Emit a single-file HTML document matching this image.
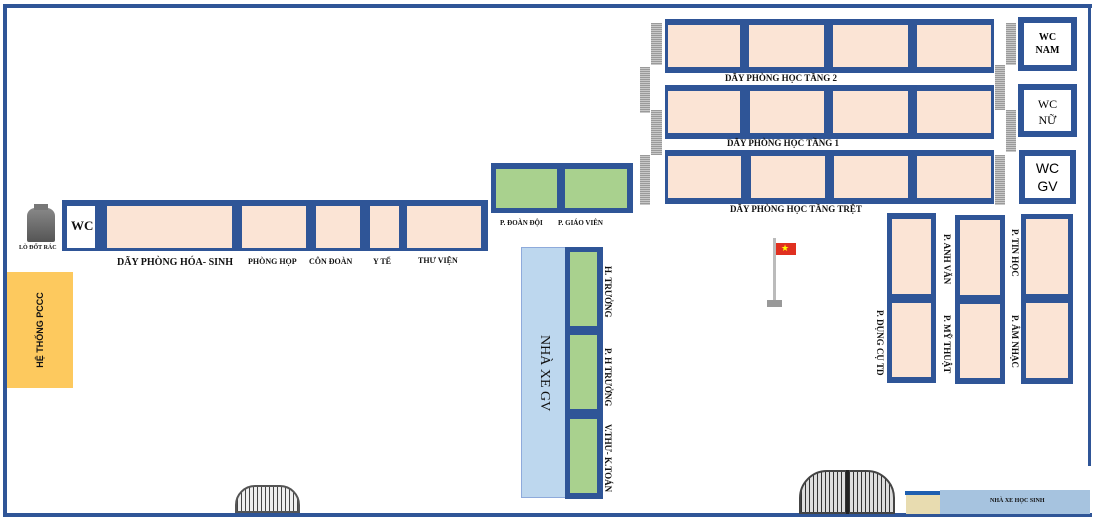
<!DOCTYPE html>
<html><head><meta charset="utf-8"><style>
body{margin:0;background:#fff;}
#c{position:relative;width:1096px;height:520px;overflow:hidden;background:#fff;font-family:"Liberation Serif",serif;}
.a{position:absolute;box-sizing:border-box;}
.b{background:#2f5597;}
.p{background:#fbe4d5;}
.g{background:#a9d18e;}
.w{background:#fff;}
.st{background:repeating-linear-gradient(180deg,#9a9a9a 0 1px,#c8c8c8 1px 2px);}
.t{position:absolute;font-weight:bold;font-size:9px;white-space:nowrap;color:#111;}
.v{position:absolute;font-weight:bold;font-size:9px;white-space:nowrap;color:#111;writing-mode:vertical-rl;}
</style></head><body><div id="c">
<div class="a b" style="left:3px;top:4px;width:1089px;height:4px"></div>
<div class="a b" style="left:3px;top:4px;width:4px;height:513px"></div>
<div class="a b" style="left:3px;top:513px;width:1089px;height:4px"></div>
<div class="a b" style="left:1088px;top:4px;width:3px;height:462px"></div>

<div class="a b" style="left:62px;top:200px;width:426px;height:51px"></div>
<div class="a w" style="left:67px;top:206px;width:28px;height:42px"></div>
<div class="t" style="left:71px;top:218px;font-size:13px">WC</div>
<div class="a p" style="left:107px;top:206px;width:125px;height:42px"></div>
<div class="a p" style="left:242px;top:206px;width:64px;height:42px"></div>
<div class="a p" style="left:316px;top:206px;width:44px;height:42px"></div>
<div class="a p" style="left:370px;top:206px;width:29px;height:42px"></div>
<div class="a p" style="left:407px;top:206px;width:74px;height:42px"></div>
<div class="t" style="left:117px;top:257px;font-size:10px">DÃY PHÒNG HÓA- SINH</div>
<div class="t" style="left:248px;top:257px;font-size:8px">PHÒNG HỌP</div>
<div class="t" style="left:309px;top:257px;font-size:8px">CÔN ĐOÀN</div>
<div class="t" style="left:373px;top:257px;font-size:8px">Y TẾ</div>
<div class="t" style="left:418px;top:256px;font-size:8px">THƯ VIỆN</div>
<div class="a" style="left:27px;top:208px;width:28px;height:34px;background:linear-gradient(#888,#555);border-radius:8px 8px 2px 2px"></div>
<div class="a" style="left:34px;top:204px;width:14px;height:6px;background:#777"></div>
<div class="t" style="left:19px;top:245px;font-size:6px">LÒ ĐỐT RÁC</div>
<div class="a" style="left:7px;top:272px;width:66px;height:116px;background:#fdc95e"></div>
<div class="t" style="left:40px;top:330px;font-family:'Liberation Sans',sans-serif;font-size:9px;transform:translate(-50%,-50%) rotate(-90deg)">HỆ THỐNG PCCC</div>

<div class="a b" style="left:491px;top:163px;width:142px;height:50px"></div>
<div class="a g" style="left:496px;top:169px;width:61px;height:39px"></div>
<div class="a g" style="left:565px;top:169px;width:62px;height:39px"></div>
<div class="t" style="left:500px;top:219px;font-size:7px">P. ĐOÀN ĐỘI</div>
<div class="t" style="left:558px;top:219px;font-size:7px">P. GIÁO VIÊN</div>

<div class="a" style="left:521px;top:247px;width:45px;height:251px;background:#bdd7ee;border:1px solid #8eaadb"></div>
<div class="v" style="left:536px;top:335px;font-weight:normal;font-size:14px">NHÀ XE GV</div>
<div class="a b" style="left:565px;top:247px;width:38px;height:252px"></div>
<div class="a g" style="left:570px;top:252px;width:27px;height:74px"></div>
<div class="a g" style="left:570px;top:335px;width:27px;height:74px"></div>
<div class="a g" style="left:570px;top:419px;width:27px;height:74px"></div>
<div class="v" style="left:603px;top:266px">H. TRƯỞNG</div>
<div class="v" style="left:603px;top:348px">P. H TRƯỞNG</div>
<div class="v" style="left:603px;top:424px">V.THƯ- K.TOÁN</div>

<div class="a st" style="left:640px;top:67px;width:10px;height:46px"></div>
<div class="a st" style="left:640px;top:155px;width:10px;height:50px"></div>
<div class="a st" style="left:651px;top:23px;width:11px;height:42px"></div>
<div class="a st" style="left:651px;top:110px;width:11px;height:45px"></div>
<div class="a st" style="left:995px;top:65px;width:10px;height:45px"></div>
<div class="a st" style="left:995px;top:155px;width:10px;height:50px"></div>
<div class="a st" style="left:1006px;top:23px;width:10px;height:42px"></div>
<div class="a st" style="left:1006px;top:110px;width:10px;height:42px"></div>

<div class="a b" style="left:665px;top:19px;width:329px;height:54px"></div>
<div class="a b" style="left:665px;top:85px;width:329px;height:54px"></div>
<div class="a b" style="left:665px;top:150px;width:329px;height:54px"></div>
<div class="a p" style="left:668px;top:25px;width:72px;height:42px"></div>
<div class="a p" style="left:749px;top:25px;width:75px;height:42px"></div>
<div class="a p" style="left:833px;top:25px;width:75px;height:42px"></div>
<div class="a p" style="left:917px;top:25px;width:74px;height:42px"></div>
<div class="a p" style="left:668px;top:91px;width:72px;height:42px"></div>
<div class="a p" style="left:750px;top:91px;width:74px;height:42px"></div>
<div class="a p" style="left:833px;top:91px;width:75px;height:42px"></div>
<div class="a p" style="left:917px;top:91px;width:74px;height:42px"></div>
<div class="a p" style="left:668px;top:156px;width:73px;height:42px"></div>
<div class="a p" style="left:751px;top:156px;width:74px;height:42px"></div>
<div class="a p" style="left:834px;top:156px;width:74px;height:42px"></div>
<div class="a p" style="left:917px;top:156px;width:74px;height:42px"></div>
<div class="t" style="left:725px;top:73px">DÃY PHÒNG HỌC TẦNG 2</div>
<div class="t" style="left:727px;top:138px">DÃY PHÒNG HỌC TẦNG 1</div>
<div class="t" style="left:730px;top:204px">DÃY PHÒNG HỌC TẦNG TRỆT</div>

<div class="a b" style="left:1018px;top:17px;width:59px;height:54px;padding:6px"><div style="background:#fff;width:100%;height:100%;text-align:center;font-size:10px;line-height:13px;padding-top:8px;box-sizing:border-box;font-weight:bold">WC<br>NAM</div></div>
<div class="a b" style="left:1018px;top:84px;width:59px;height:53px;padding:6px"><div style="background:#fff;width:100%;height:100%;text-align:center;font-size:12px;line-height:16px;padding-top:6px;box-sizing:border-box">WC<br>NỮ</div></div>
<div class="a b" style="left:1019px;top:150px;width:57px;height:54px;padding:6px"><div style="background:#fff;width:100%;height:100%;text-align:center;font-size:14px;line-height:18px;padding-top:3px;box-sizing:border-box;font-family:'Liberation Sans',sans-serif">WC<br>GV</div></div>

<div class="a b" style="left:887px;top:213px;width:49px;height:170px"></div>
<div class="a p" style="left:892px;top:219px;width:39px;height:75px"></div>
<div class="a p" style="left:892px;top:303px;width:39px;height:74px"></div>
<div class="a b" style="left:955px;top:215px;width:50px;height:169px"></div>
<div class="a p" style="left:960px;top:220px;width:40px;height:75px"></div>
<div class="a p" style="left:960px;top:304px;width:40px;height:74px"></div>
<div class="a b" style="left:1021px;top:214px;width:52px;height:170px"></div>
<div class="a p" style="left:1026px;top:219px;width:42px;height:75px"></div>
<div class="a p" style="left:1026px;top:303px;width:42px;height:75px"></div>
<div class="v" style="left:875px;top:310px">P. DỤNG CỤ TD</div>
<div class="v" style="left:942px;top:234px">P. ANH VĂN</div>
<div class="v" style="left:942px;top:315px">P. MỸ THUẬT</div>
<div class="v" style="left:1010px;top:229px">P. TIN HỌC</div>
<div class="v" style="left:1010px;top:315px">P. ÂM NHẠC</div>

<div class="a" style="left:773px;top:238px;width:3px;height:64px;background:#bbb"></div>
<div class="a" style="left:767px;top:300px;width:15px;height:7px;background:#999"></div>
<div class="a" style="left:776px;top:243px;width:20px;height:12px;background:#e03020"></div>
<div class="a" style="left:781px;top:244px;color:#ff0;font-size:9px;line-height:9px">★</div>

<div class="a" style="left:235px;top:485px;width:65px;height:28px;border:2px solid #555;border-radius:20px 20px 0 0;background:repeating-linear-gradient(90deg,#444 0 1px,#eee 1px 4px)"></div>
<div class="a" style="left:799px;top:470px;width:96px;height:44px;border:2px solid #444;border-radius:28px 28px 0 0;background:repeating-linear-gradient(90deg,#333 0 1px,#ddd 1px 4px)"></div>
<div class="a" style="left:846px;top:470px;width:3px;height:44px;background:#222"></div>
<div class="a" style="left:905px;top:491px;width:35px;height:4px;background:#1f5fb0"></div>
<div class="a" style="left:906px;top:495px;width:34px;height:19px;background:#e8dcb0"></div>
<div class="a" style="left:940px;top:490px;width:150px;height:24px;background:#a6c3df"></div>
<div class="t" style="left:990px;top:498px;font-size:6px">NHÀ XE HỌC SINH</div>
</div></body></html>
